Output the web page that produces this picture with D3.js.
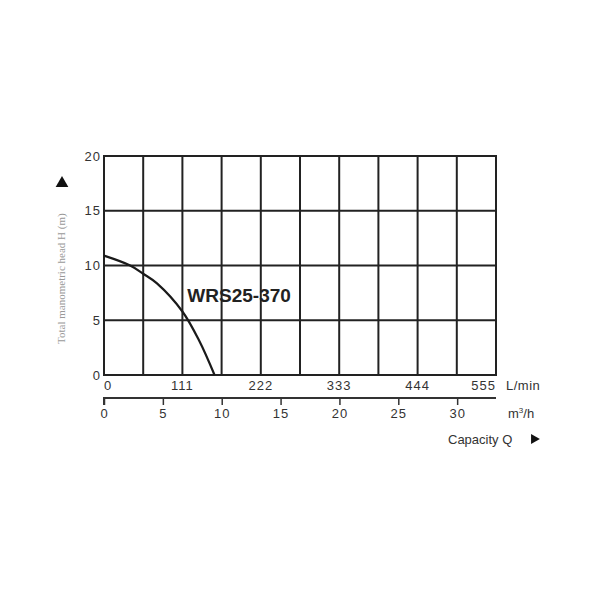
<!DOCTYPE html>
<html>
<head>
<meta charset="utf-8">
<script src="https://cdn.jsdelivr.net/npm/d3@7"></script>
<style>
  body { margin: 0; background: #fff; }
</style>
</head>
<body>
<script>
const width = 600
const height = 600
const margin = ({top: 156, right: 104, bottom: 225, left: 104});
const sans = "Liberation Sans, Arial, sans-serif";

// curve: flow in L/min, head in m
const flowLmin = [0, 37, 55.5, 75, 111, 135, 156.5];
const headM = [10.9, 10, 9.25, 8.37, 5.8, 3.1, 0];

const lminTicks = [0, 111, 222, 333, 444, 555];
const gridX = [0, 55.5, 111, 166.5, 222, 277.5, 333, 388.5, 444, 499.5, 555];
const headTicks = [0, 5, 10, 15, 20];
const m3hTicks = [0, 5, 10, 15, 20, 25, 30];

const modelName = "WRS25-370";

const x = d3.scaleLinear()
    .domain([0, 555])
    .range([margin.left, width - margin.right])

// same span in m3/h (555 L/min = 33.3 m3/h)
const xm = d3.scaleLinear()
    .domain([0, 555 * 60 / 1000])
    .range([margin.left, width - margin.right])

const y = d3.scaleLinear()
    .domain([0, 20])
    .range([height - margin.bottom, margin.top])

const svg = d3.select("body").append("svg")
    .attr("width", width)
    .attr("height", height)
    .attr("font-family", sans);

// grid
const grid = svg.append("g")
    .attr("stroke", "#222")
    .attr("stroke-width", 2);

grid.selectAll("line.v")
    .data(gridX)
    .join("line")
    .attr("class", "v")
    .attr("x1", d => x(d)).attr("x2", d => x(d))
    .attr("y1", y(20)).attr("y2", y(0));

grid.selectAll("line.h")
    .data(headTicks)
    .join("line")
    .attr("class", "h")
    .attr("x1", x(0) - 1).attr("x2", x(555) + 1)
    .attr("y1", d => y(d)).attr("y2", d => y(d));

// pump curve
const line = d3.line()
    .x((d, i) => x(flowLmin[i]))
    .y(d => y(d))
    .curve(d3.curveCatmullRom.alpha(0.5));

svg.append("path")
    .attr("d", line(headM))
    .attr("fill", "none")
    .attr("stroke", "#1a1a1a")
    .attr("stroke-width", 2.2);

svg.append("text")
    .attr("x", x(118))
    .attr("y", y(6.7))
    .attr("font-size", 19)
    .attr("font-weight", "bold")
    .attr("fill", "#222")
    .text(modelName);

// y labels
svg.append("g")
    .selectAll("text")
    .data(headTicks)
    .join("text")
    .attr("x", x(0) - 3)
    .attr("y", d => y(d))
    .attr("dy", "0.35em")
    .attr("text-anchor", "end")
    .attr("font-size", 13)
    .attr("letter-spacing", 1)
    .attr("fill", "#333")
    .text(d => d);

svg.append("text")
    .attr("transform", `translate(65,${y(8.8)}) rotate(-90)`)
    .attr("text-anchor", "middle")
    .style("font-family", "'Liberation Serif', serif")
    .attr("font-size", 11)
    .attr("fill", "#999")
    .text("Total manometric head H (m)");

svg.append("path")
    .attr("d", d3.symbol(d3.symbolTriangle, 70)())
    .attr("transform", `translate(62,${y(17.5)})`)
    .attr("fill", "#111");

// L/min labels
svg.append("g")
    .selectAll("text")
    .data(lminTicks)
    .join("text")
    .attr("x", d => x(d))
    .attr("y", y(0) + 15)
    .attr("text-anchor", (d, i) => i === 0 ? "start" : i === lminTicks.length - 1 ? "end" : "middle")
    .attr("font-size", 13)
    .attr("letter-spacing", 1)
    .attr("fill", "#333")
    .text(d => d);

svg.append("text")
    .attr("x", x(555) + 10)
    .attr("y", y(0) + 15)
    .attr("font-size", 13)
    .attr("letter-spacing", 0.5)
    .attr("fill", "#333")
    .text("L/min");

// m3/h axis
const gm = svg.append("g")
    .attr("transform", `translate(0,${y(0) + 23})`)
    .call(d3.axisBottom(xm).tickValues(m3hTicks).tickSize(7).tickSizeOuter(0).tickPadding(4));

gm.select(".domain").attr("stroke", "#333").attr("stroke-width", 2)
    .attr("d", `M${x(0)},7V0H${x(555)}`);
gm.selectAll(".tick line").attr("stroke", "#333").attr("stroke-width", 1.5);
gm.selectAll(".tick text")
    .attr("font-family", sans)
    .attr("font-size", 13)
    .attr("letter-spacing", 1)
    .attr("fill", "#333");

const unit = svg.append("text")
    .attr("x", x(555) + 12)
    .attr("y", y(0) + 43)
    .attr("font-size", 13)
    .attr("fill", "#333");
unit.append("tspan").text("m");
unit.append("tspan").attr("dy", -5).attr("font-size", 8).text("3");
unit.append("tspan").attr("dy", 5).text("/h");

svg.append("text")
    .attr("x", x(555) - 48)
    .attr("y", y(0) + 69)
    .attr("font-size", 13)
    .attr("fill", "#333")
    .text("Capacity Q");

svg.append("path")
    .attr("d", d3.symbol(d3.symbolTriangle, 45)())
    .attr("transform", `translate(${x(555) + 38},${y(0) + 64}) rotate(90)`)
    .attr("fill", "#111");
</script>
</body>
</html>
